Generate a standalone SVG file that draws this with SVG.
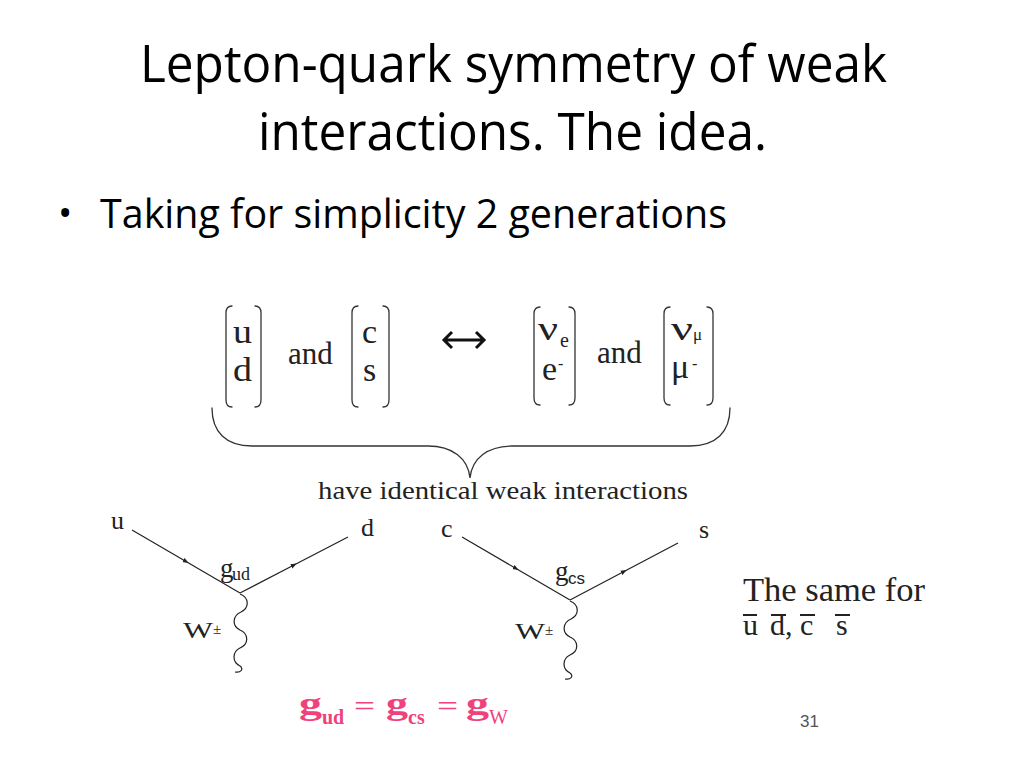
<svg xmlns="http://www.w3.org/2000/svg" width="1024" height="768" viewBox="0 0 1024 768">
<defs>
<style>
.title{font-family:"Open Sans","Liberation Sans",sans-serif;fill:#000}
.ser{font-family:"Liberation Serif",serif;fill:#222}
.sans{font-family:"Liberation Sans",sans-serif;fill:#222}
.pink{font-family:"Liberation Serif",serif;fill:#F0417D}
.br{fill:none;stroke:#333;stroke-width:1.3;stroke-linecap:round}
.line{fill:none;stroke:#222;stroke-width:1.2;marker-mid:url(#ah)}
.wave{fill:none;stroke:#222;stroke-width:1.2}
.bar{stroke:#222;stroke-width:2}
</style>
<marker id="ah" viewBox="0 0 10 10" refX="5" refY="5" markerWidth="6" markerHeight="6" orient="auto" markerUnits="userSpaceOnUse">
<path d="M0,1 L10,5 L0,9 Z" fill="#222"/>
</marker>
</defs>
<rect width="1024" height="768" fill="#fff"/>

<g id="title">
<text class="title" x="140" y="82" font-size="51" textLength="747" lengthAdjust="spacingAndGlyphs">Lepton-quark symmetry of weak</text>
<text class="title" x="258" y="150" font-size="51" textLength="509" lengthAdjust="spacingAndGlyphs">interactions. The idea.</text>
</g>
<g id="bullet">
<text class="title" x="58" y="227" font-size="38">•</text>
<text class="title" x="100" y="228" font-size="40" textLength="627" lengthAdjust="spacingAndGlyphs">Taking for simplicity 2 generations</text>
</g>

<g id="quark-doublet-ud">
<path class="br" d="M232,306 Q226,306 226,313 L226,400 Q226,407 232,407"/>
<path class="br" d="M255,306 Q261,306 261,313 L261,400 Q261,407 255,407"/>
<text class="ser" x="233" y="343" font-size="34" textLength="19" lengthAdjust="spacingAndGlyphs">u</text>
<text class="ser" x="233" y="381" font-size="34" textLength="19" lengthAdjust="spacingAndGlyphs">d</text>
</g>
<text class="ser" x="288" y="364" font-size="31">and</text>
<g id="quark-doublet-cs">
<path class="br" d="M358,306 Q352,306 352,313 L352,400 Q352,407 358,407"/>
<path class="br" d="M383,306 Q389,306 389,313 L389,400 Q389,407 383,407"/>
<text class="ser" x="362" y="343" font-size="34">c</text>
<text class="ser" x="363" y="381" font-size="34">s</text>
</g>
<g id="double-arrow">
<path d="M452,332 L444,340 L452,348 M444,340 L484,340 M476,332 L484,340 L476,348" fill="none" stroke="#111" stroke-width="3" stroke-linejoin="miter"/>
</g>
<g id="lepton-doublet-e">
<path class="br" d="M540,307 Q534,307 534,314 L534,398 Q534,405 540,405"/>
<path class="br" d="M569,307 Q575,307 575,314 L575,398 Q575,405 569,405"/>
<text class="ser" x="538" y="340" font-size="34" textLength="20" lengthAdjust="spacingAndGlyphs">ν</text>
<text class="ser" x="560" y="347" font-size="20">e</text>
<text class="ser" x="542" y="380" font-size="34">e</text>
<text class="ser" x="558" y="369" font-size="16">-</text>
</g>
<text class="ser" x="597" y="363" font-size="31">and</text>
<g id="lepton-doublet-mu">
<path class="br" d="M670,307 Q664,307 664,314 L664,398 Q664,405 670,405"/>
<path class="br" d="M707,307 Q713,307 713,314 L713,398 Q713,405 707,405"/>
<text class="ser" x="671" y="340" font-size="34" textLength="22" lengthAdjust="spacingAndGlyphs">ν</text>
<text class="ser" x="693" y="340" font-size="17">μ</text>
<text class="ser" x="671" y="378" font-size="34">μ</text>
<text class="ser" x="692" y="369" font-size="16">-</text>
</g>

<g id="brace">
<path class="br" d="M212,408 C212,432 226,446 252,446 L428,446 C452,446 468,458 470,478 C472,458 488,446 512,446 L690,446 C716,446 730,432 730,408"/>
<text class="ser" x="318" y="499" font-size="26" textLength="370" lengthAdjust="spacingAndGlyphs">have identical weak interactions</text>
</g>

<g id="connectors">
<path class="line" d="M132,530 L186,561.5 L240,593"/>
<path class="line" d="M240,593 L294,565 L348,537"/>
<path class="wave" d="M240,594 C250,598 249,608 241,612 C232,616 232,626 240,630 C249,634 249,644 240,648 C232,652 232,662 240,666 C244,669 241,673 235,672"/>
<path class="line" d="M462,537 L516,568.5 L570,600"/>
<path class="line" d="M570,600 L624,571.5 L678,543"/>
<path class="wave" d="M570,601 C580,605 579,615 571,619 C562,623 562,633 570,637 C579,641 579,651 570,655 C562,659 562,669 570,673 C574,676 571,680 565,679"/>
</g>

<g id="vertex-ud">
<text class="ser" x="111" y="529" font-size="26">u</text>
<text class="ser" x="361" y="536" font-size="26">d</text>
<text class="ser" x="220" y="577" font-size="27">g</text>
<text class="ser" x="232" y="580" font-size="18">ud</text>
<text class="ser" x="183" y="638" font-size="24" textLength="30" lengthAdjust="spacingAndGlyphs">W</text>
<text class="ser" x="213" y="634" font-size="15">±</text>
</g>
<g id="vertex-cs">
<text class="ser" x="441" y="537" font-size="26">c</text>
<text class="ser" x="699" y="538" font-size="26">s</text>
<text class="ser" x="555" y="580" font-size="27">g</text>
<text class="sans" x="568" y="584" font-size="17">cs</text>
<text class="ser" x="515" y="639" font-size="24" textLength="30" lengthAdjust="spacingAndGlyphs">W</text>
<text class="ser" x="545" y="635" font-size="15">±</text>
</g>

<g id="antiquarks">
<text class="ser" x="743" y="601" font-size="33" textLength="182" lengthAdjust="spacingAndGlyphs">The same for</text>
<text class="ser" x="743" y="635" font-size="30">u</text>
<text class="ser" x="770" y="635" font-size="30">d,</text>
<text class="ser" x="800" y="635" font-size="30">c</text>
<text class="ser" x="836" y="635" font-size="30">s</text>
<line class="bar" x1="743" y1="615" x2="757" y2="615"/>
<line class="bar" x1="771" y1="615" x2="786" y2="615"/>
<line class="bar" x1="800" y1="615" x2="815" y2="615"/>
<line class="bar" x1="835" y1="615" x2="850" y2="615"/>
</g>

<g id="couplings">
<text class="pink" x="299" y="714" font-size="32" font-weight="bold" textLength="23" lengthAdjust="spacingAndGlyphs">g</text>
<text class="pink" x="322" y="724" font-size="20" font-weight="bold">ud</text>
<text class="pink" x="354" y="716" font-size="30" textLength="21" lengthAdjust="spacingAndGlyphs">=</text>
<text class="pink" x="386" y="714" font-size="32" font-weight="bold" textLength="22" lengthAdjust="spacingAndGlyphs">g</text>
<text class="pink" x="408" y="724" font-size="20" font-weight="bold">cs</text>
<text class="pink" x="437" y="716" font-size="30" textLength="21" lengthAdjust="spacingAndGlyphs">=</text>
<text class="pink" x="466" y="714" font-size="32" font-weight="bold" textLength="23" lengthAdjust="spacingAndGlyphs">g</text>
<text class="pink" x="489" y="724" font-size="20">W</text>
</g>

<text x="800" y="727" font-family="Liberation Sans, sans-serif" font-size="17" fill="#555">31</text>
</svg>
